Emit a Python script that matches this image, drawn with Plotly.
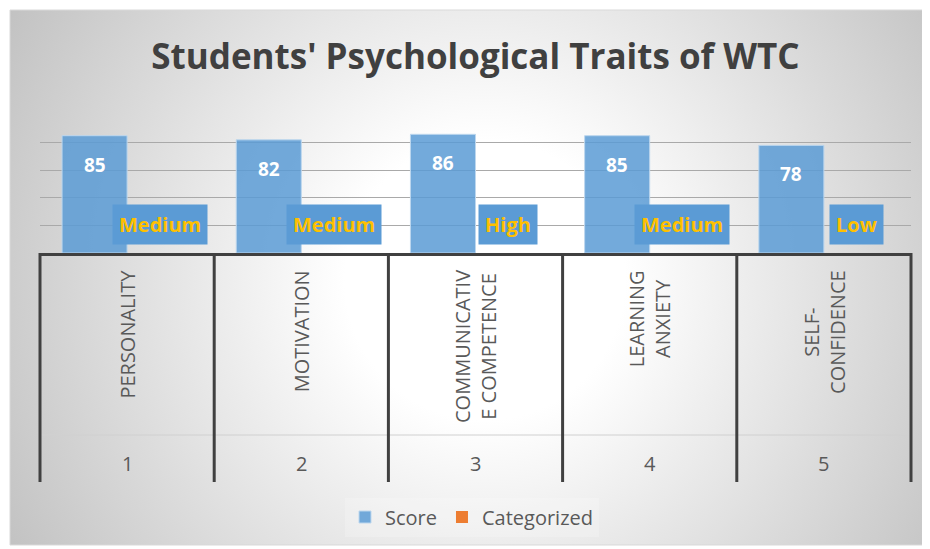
import base64
import plotly.graph_objects as go

# ---- data ----
categories = ["PERSONALITY", "MOTIVATION", "COMMUNICATIV<br>E COMPETENCE",
              "LEARNING<br>ANXIETY", "SELF-<br>CONFIDENCE"]
numbers = ["1", "2", "3", "4", "5"]
score = [85, 82, 86, 85, 78]
categorized = ["Medium", "Medium", "High", "Medium", "Low"]
categorized_values = [0, 0, 0, 0, 0]
title = "Students' Psychological Traits of WTC"

OFF = 8                     # page body margin
W, H = 930 - OFF, 549 - OFF
L, R, T, B = 40 - OFF, 911 - OFF, 115 - OFF, 253 - OFF   # plot area (figure px)
BARGAP = 0.253


def px(xp):
    """page x -> paper"""
    return (xp - OFF - L) / (R - L)


def py(yp):
    """page y -> paper"""
    return (B - (yp - OFF)) / (B - T)


# radial gradient background (chart area 10..925 x 10..545 on page)
cw, ch = 915, 535
svg = f"""<svg xmlns='http://www.w3.org/2000/svg' width='{cw}' height='{ch}' viewBox='0 0 {cw} {ch}' preserveAspectRatio='none'>
<defs><radialGradient id='g' gradientUnits='userSpaceOnUse' cx='475' cy='270' r='560'>
<stop offset='0' stop-color='#ffffff'/><stop offset='0.25' stop-color='#ffffff'/><stop offset='1' stop-color='#c0c0c0'/></radialGradient></defs>
<rect x='0' y='0' width='{cw}' height='{ch}' fill='url(#g)'/></svg>"""
src = "data:image/svg+xml;base64," + base64.b64encode(svg.encode()).decode()

fig = go.Figure()
fig.add_trace(go.Bar(
    name="Score", x=categories, y=score,
    marker=dict(color="rgba(91,155,213,0.85)", line=dict(color="#bdd7ee", width=1)),
    hoverinfo="skip",
))
fig.add_trace(go.Bar(
    name="Categorized", x=categories, y=categorized_values,
    marker=dict(color="#ed7d31", line=dict(width=0)),
    hoverinfo="skip",
))

off = (1 - BARGAP) / 4
annotations = []
for i, (s, c) in enumerate(zip(score, categorized)):
    annotations.append(dict(
        x=i - off, y=s, xref="x", yref="y", text=str(s), showarrow=False,
        yanchor="top", yshift=-14,
        font=dict(family="Open Sans", size=19, color="white", weight=700)))
    annotations.append(dict(
        x=i + off, y=0, xref="x", yref="y", text=c, showarrow=False,
        yanchor="bottom", yshift=8, bgcolor="#5b9bd5", borderpad=6,
        font=dict(family="Open Sans", size=20, color="#ffc000", weight=700)))
for i, (name, num) in enumerate(zip(categories, numbers)):
    annotations.append(dict(
        x=i, y=py(268), xref="x", yref="paper", text=name, showarrow=False,
        textangle=-90, yanchor="top", align="center",
        font=dict(family="Open Sans", size=20, color="#595959")))
    annotations.append(dict(
        x=i, y=py(463), xref="x", yref="paper", text=num, showarrow=False,
        yanchor="middle",
        font=dict(family="Open Sans", size=20, color="#595959")))

shapes = [
    dict(type="rect", xref="paper", yref="paper", x0=px(10), x1=px(925),
         y0=py(545), y1=py(10), line=dict(color="#d9d9d9", width=1), layer="below"),
    dict(type="line", xref="paper", yref="paper", x0=0, x1=1, y0=py(435), y1=py(435),
         line=dict(color="#d0d0d0", width=1)),
]
for k in range(len(categories) + 1):
    shapes.append(dict(type="line", xref="paper", yref="paper", x0=k / 5, x1=k / 5,
                       y0=0, y1=py(482), line=dict(color="#404040", width=3)))

fig.update_layout(
    width=W, height=H,
    margin=dict(l=L, r=W - R, t=T, b=H - B, pad=0),
    paper_bgcolor="white", plot_bgcolor="rgba(0,0,0,0)",
    barmode="group", bargap=BARGAP, bargroupgap=0,
    title=dict(text=title, x=0.5, xref="paper", xanchor="center",
               y=1 - (57 - OFF) / H, yanchor="middle",
               font=dict(family="Open Sans", size=35, color="#404040", weight=700)),
    xaxis=dict(showticklabels=False, ticks="", showgrid=False, showline=True,
               linecolor="#404040", linewidth=3, range=[-0.5, 4.5], fixedrange=True),
    yaxis=dict(range=[0, 100], dtick=20, showticklabels=False, ticks="",
               gridcolor="#a9a9a9", gridwidth=1.3, zeroline=False, showline=False),
    legend=dict(orientation="h", x=px(472), xanchor="center", y=py(517), yanchor="middle",
                font=dict(family="Open Sans", size=20, color="#595959"),
                bgcolor="rgba(255,255,255,0.2)", itemwidth=30, traceorder="normal"),
    images=[dict(source=src, xref="paper", yref="paper", x=px(10), y=py(10),
                 sizex=px(925) - px(10), sizey=py(10) - py(545),
                 xanchor="left", yanchor="top", sizing="stretch", layer="below")],
    annotations=annotations,
    shapes=shapes,
    showlegend=True,
)

fig.write_html("out.html")
